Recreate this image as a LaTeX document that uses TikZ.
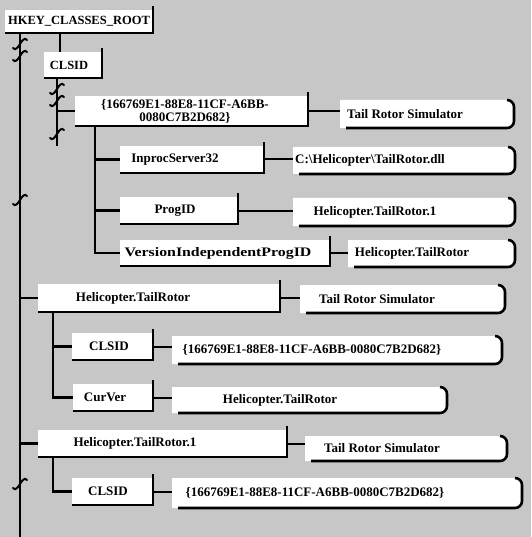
\documentclass[tikz,border=0pt]{standalone}
\usepackage{fontspec}
\setmainfont{Liberation Serif}
\usetikzlibrary{fit}
\tikzset{
  bx/.style={inner sep=0pt, outer sep=0pt, fill=white, draw=none},
  txt/.style={inner sep=0pt, font=\fontsize{13}{13}\selectfont\bfseries, align=center},
  shad/.style={line width=2.6pt, black},
  tree/.style={line width=2.6pt, black},
  link/.style={line width=2pt, black},
  brkline/.style={line width=2pt, black, line cap=round},
}
% key box: name, x1, y1, x2, y2, text-x, text
\newcommand\kbox[7]{%
  \path (#2,#3) coordinate (#1-nw) (#4,#5) coordinate (#1-se);
  \node[bx, fit=(#1-nw)(#1-se)] (#1) {};
  \draw[shad] ([yshift=4pt]#1.north east) -- (#1.south east) -- (#1.south west);
  \node[txt] (#1-t) at (#6,{(#3+#5)/2}) {#7};
}
% value box: name, x1, y1, x2, y2, text-x, text
\newcommand\valbox[7]{%
  \path (#2,#3) coordinate (#1-nw) (#4,#5) coordinate (#1-se);
  \node[inner sep=0pt, outer sep=0pt, fit=(#1-nw)(#1-se)] (#1) {};
  \fill[white] (#1.south west) -- (#1.north west) -- ([xshift=-7pt]#1.north east)
     arc[start angle=90, end angle=0, radius=7pt] -- ([yshift=7pt]#1.south east)
     arc[start angle=0, end angle=-90, radius=7pt] -- cycle;
  \draw[shad] ([xshift=-7pt]#1.north east)
     arc[start angle=90, end angle=0, radius=7pt] -- ([yshift=7pt]#1.south east)
     arc[start angle=0, end angle=-90, radius=7pt] -- ([xshift=6pt]#1.south west);
  \node[txt] (#1-t) at (#6,{(#3+#5)/2}) {#7};
}
\newcommand\brkmark[2]{%
  \draw[brkline] ({#1-7},{#2+4}) .. controls ({#1-2},{#2+10}) and ({#1+2},{#2-10}) .. ({#1+7},{#2-4});
}
\begin{document}
\begin{tikzpicture}[x=1pt, y=-1pt]
\useasboundingbox (0,0) rectangle (531,537);
\fill[black!22] (0,0) rectangle (531,537);

% trunk x positions
\coordinate (m) at (20,0);
\coordinate (c1x) at (60,0);
\coordinate (g1x) at (57,0);
\coordinate (t1x) at (95,0);
\coordinate (t2x) at (53,0);
\coordinate (mbot) at (20,537);
\coordinate (g1end) at (57,146);

% ---------- key boxes ----------
\kbox{hkey}{5}{10}{153}{33}{79}{\fontsize{12.5}{13}\selectfont HKEY\_CLASSES\_ROOT}
\kbox{clsidA}{44}{52}{102}{78}{69}{\fontsize{12.5}{13}\selectfont CLSID}
\kbox{guidA}{75}{96}{308}{126}{185}{\{166769E1-88E8-11CF-A6BB-\\0080C7B2D682\}}
\kbox{inproc}{120}{146}{264}{173}{175}{InprocServer32}
\kbox{progid}{120}{197}{238}{224}{175}{ProgID}
\kbox{vipid}{120}{240}{330}{266}{218}{\scalebox{1.22}[1]{VersionIndependentProgID}}
\kbox{htr}{38}{284}{280}{312}{133}{Helicopter.TailRotor}
\kbox{clsidB}{72}{333}{153}{360}{109}{CLSID}
\kbox{curver}{73}{384}{153}{411}{105}{CurVer}
\kbox{htro}{38}{430}{287}{457}{135}{Helicopter.TailRotor.1}
\kbox{clsidC}{72}{478}{153}{505}{108}{CLSID}

% ---------- value boxes ----------
\valbox{vA}{340}{100}{514}{128}{405}{Tail Rotor Simulator}
\valbox{vB}{293}{147}{515}{174}{370}{C:\textbackslash Helicopter\textbackslash TailRotor.dll}
\valbox{vC}{293}{198}{515}{226}{375}{Helicopter.TailRotor.1}
\valbox{vD}{348}{240}{515}{267}{412}{Helicopter.TailRotor}
\valbox{vE}{300}{285}{505}{313}{377}{Tail Rotor Simulator}
\valbox{vF}{172}{336}{502}{364}{312}{\{166769E1-88E8-11CF-A6BB-0080C7B2D682\}}
\valbox{vG}{172}{387}{447}{413}{280}{Helicopter.TailRotor}
\valbox{vH}{305}{436}{507}{461}{382}{Tail Rotor Simulator}
\valbox{vI}{172}{478}{522}{508}{315}{\{166769E1-88E8-11CF-A6BB-0080C7B2D682\}}

% ---------- tree lines ----------
\draw[tree] (m |- hkey.south) -- (mbot);
\draw[tree] (m |- htr.west) -- (htr.west);
\draw[tree] (m |- htro.west) -- (htro.west);
\draw[tree] (c1x |- hkey.south) -- (c1x |- clsidA.north);
\draw[tree] (g1x |- clsidA.south) -- (g1end);
\draw[tree] (g1x |- guidA.west) -- (guidA.west);
\draw[tree] (t1x |- guidA.south) -- (t1x |- vipid.west) -- (vipid.west);
\draw[tree] (t1x |- inproc.west) -- (inproc.west);
\draw[tree] (t1x |- progid.west) -- (progid.west);
\draw[tree] (t2x |- htr.south) -- (t2x |- curver.west) -- (curver.west);
\draw[tree] (t2x |- clsidB.west) -- (clsidB.west);
\draw[tree] (t2x |- htro.south) -- (t2x |- clsidC.west) -- (clsidC.west);

% break marks
\brkmark{20}{44}
\brkmark{20}{56}
\brkmark{57}{89}
\brkmark{57}{101}
\brkmark{57}{134}
\brkmark{20}{200}
\brkmark{20}{484}

% ---------- key -> value links ----------
\draw[link] (guidA.east) -- (guidA.east -| vA.west);
\draw[link] (inproc.east) -- (inproc.east -| vB.west);
\draw[link] (progid.east) -- (progid.east -| vC.west);
\draw[link] (vipid.east) -- (vipid.east -| vD.west);
\draw[link] (htr.east) -- (htr.east -| vE.west);
\draw[link] (clsidB.east) -- (clsidB.east -| vF.west);
\draw[link] (curver.east) -- (curver.east -| vG.west);
\draw[link] (htro.east) -- (htro.east -| vH.west);
\draw[link] (clsidC.east) -- (clsidC.east -| vI.west);
\end{tikzpicture}
\end{document}
